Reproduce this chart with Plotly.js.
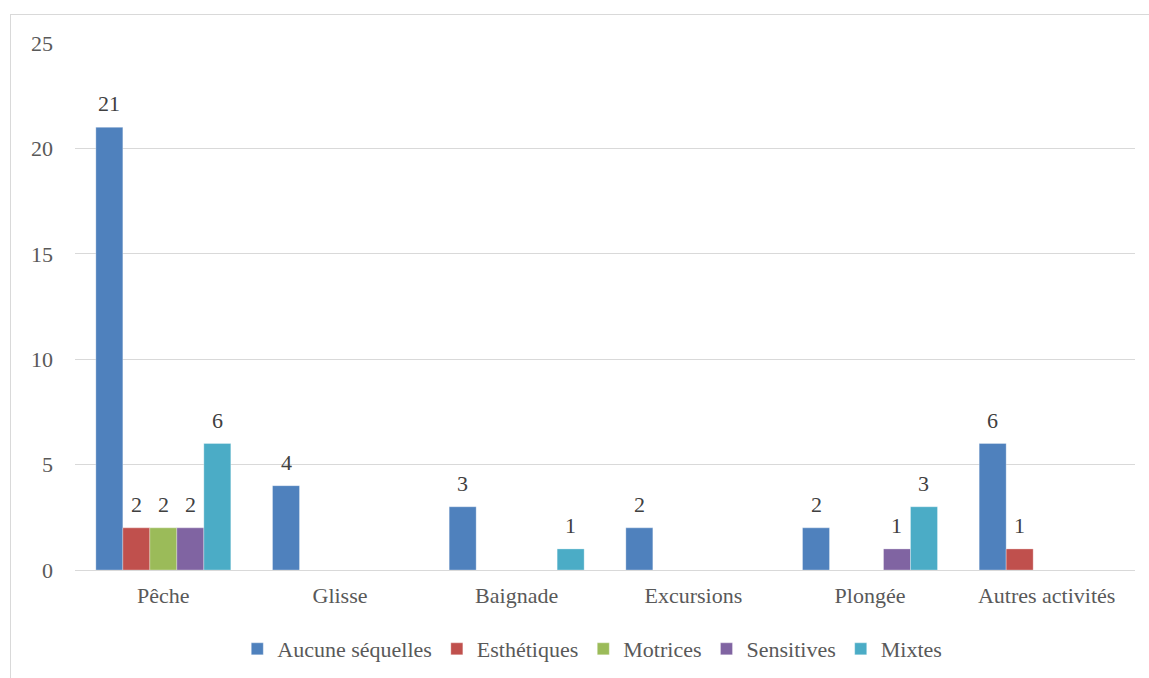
<!DOCTYPE html>
<html>
<head>
<meta charset="utf-8">
<script src="https://cdn.plot.ly/plotly-3.0.1.min.js"></script>
<style>
body{margin:0;background:#fff;}
#frame{position:absolute;left:10px;top:14px;width:1150px;height:670px;border:1px solid #d9d9d9;}
#chart text, #chart .legendtext, #chart .xtick text, #chart .ytick text, #chart .annotation-text {
  font-family: 'Liberation Serif', 'Times New Roman', serif !important;
}
</style>
</head>
<body>
<div id="frame"><div id="chart" style="width:1150px;height:670px"></div></div>
<script>
const categories = ["Pêche", "Glisse", "Baignade", "Excursions", "Plongée", "Autres activités"];
const seriesNames = ["Aucune séquelles", "Esthétiques", "Motrices", "Sensitives", "Mixtes"];
const aucune = [21, 4, 3, 2, 2, 6];
const esthetiques = [2, 0, 0, 0, 0, 1];
const motrices = [2, 0, 0, 0, 0, 0];
const sensitives = [2, 0, 0, 0, 1, 0];
const mixtes = [6, 0, 1, 0, 3, 0];
const yTicks = [0, 5, 10, 15, 20, 25];

const FONT = "'Liberation Serif', 'Times New Roman', serif";
const colors = ["#4f81bd", "#c0504d", "#9bbb59", "#8064a2", "#4bacc6"];
const allValues = [aucune, esthetiques, motrices, sensitives, mixtes];
const BARGAP = 0.236;
const nSeries = allValues.length;
const bw = (1 - BARGAP) / nSeries;

const traces = allValues.map((vals, i) => ({
  type: 'bar',
  name: seriesNames[i],
  x: categories,
  y: vals,
  marker: {color: colors[i], line: {color: 'rgba(255,255,255,0.6)', width: 0.5}}
}));

const annotations = [];
allValues.forEach((vals, i) => {
  vals.forEach((v, j) => {
    if (v > 0) {
      annotations.push({
        xref: 'x', yref: 'y',
        x: j + (i - (nSeries - 1) / 2) * bw,
        y: v,
        text: String(v),
        showarrow: false,
        yanchor: 'bottom',
        yshift: 9,
        font: {family: FONT, size: 22, color: '#404040'}
      });
    }
  });
});

const layout = {
  width: 1150, height: 670,
  margin: {l: 64, r: 26, t: 28, b: 115},
  paper_bgcolor: '#fff', plot_bgcolor: '#fff',
  barmode: 'group',
  bargap: BARGAP,
  bargroupgap: 0,
  font: {family: FONT, size: 22, color: '#595959'},
  xaxis: {
    type: 'category',
    showgrid: false, showline: false, zeroline: false,
    ticks: '', ticklen: 0,
    ticklabelstandoff: 10,
    tickfont: {family: FONT, size: 22, color: '#595959'}
  },
  yaxis: {
    range: [0, 25],
    tickvals: yTicks,
    showgrid: true, gridcolor: '#d9d9d9', gridwidth: 1,
    zeroline: true, zerolinecolor: '#d9d9d9', zerolinewidth: 1,
    showline: false, ticks: '',
    ticklabelstandoff: 21,
    tickfont: {family: FONT, size: 22, color: '#595959'}
  },
  annotations: annotations,
  showlegend: true,
  legend: {
    orientation: 'h',
    x: 0.488, xanchor: 'center',
    y: -0.15, yanchor: 'middle',
    font: {family: FONT, size: 22, color: '#595959'},
    itemwidth: 30,
    traceorder: 'normal'
  }
};

Plotly.newPlot('chart', traces, layout, {displayModeBar: false});
</script>
</body>
</html>
